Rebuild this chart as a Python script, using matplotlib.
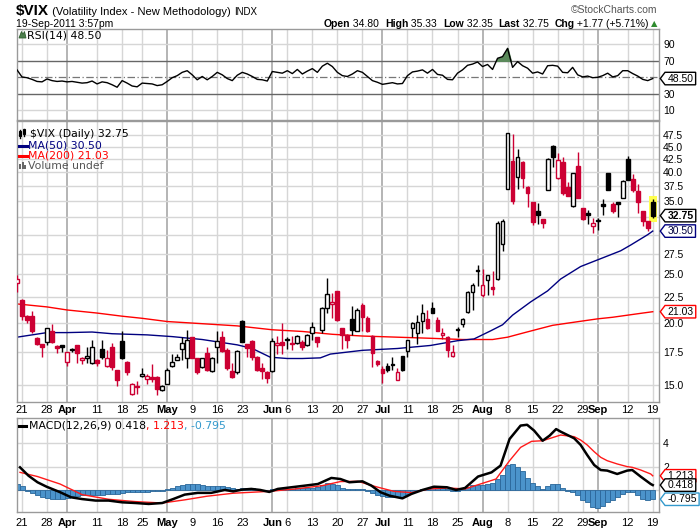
import matplotlib
matplotlib.use('Agg')
import matplotlib.pyplot as plt
import numpy as np
from matplotlib.patches import Rectangle, Polygon
from matplotlib.path import Path
from matplotlib.ticker import FixedLocator, FixedFormatter, NullLocator

plt.rcParams['font.family'] = ['Liberation Sans', 'DejaVu Sans']

# ---------------- data (trading-day index 0 = 18-Mar-2011 ... 127 = 19-Sep-2011) ----------------
opens = [24.0, 22.2, 20.6, 20.6, 18.6, 18.1, 18.3, 19.2, 17.95, 18.0,
         16.7, 17.7, 18.0, 16.8, 16.95, 16.6, 16.8, 17.7, 16.4, 17.9,
         16.07, 18.4, 16.7, 14.4, 14.9, 15.65, 15.4, 15.6, 15.6, 14.65,
         15.1, 16.4, 16.85, 17.7, 17.0, 18.7, 16.95, 16.3, 17.35, 16.0,
         17.9, 18.7, 17.6, 16.0, 15.95, 20.15, 18.1, 18.4, 17.1, 16.25,
         15.95, 16.0, 18.05, 18.3, 18.5, 18.2, 18.2, 18.3, 18.05, 19.1,
         18.7, 19.33, 21.4, 21.75, 23.1, 19.5, 18.9, 20.3, 19.25, 21.7,
         20.4, 18.8, 16.75, 16.15, 16.35, 16.5, 15.35, 17.15, 17.55, 19.5,
         19.1, 20.15, 20.35, 21.4, 20.25, 18.9, 18.75, 17.15, 19.4, 19.85,
         21.0, 23.0, 25.45, 22.7, 24.3, 23.6, 24.4, 28.7, 37.1, 42.1,
         39.2, 42.0, 37.4, 34.8, 33.4, 32.2, 36.9, 45.2, 38.9, 42.0,
         37.4, 34.3, 41.2, 33.9, 33.1, 31.2, 32.05, 34.6, 39.8, 34.6,
         34.8, 35.6, 42.6, 38.8, 36.7, 33.4, 31.95, 34.8]
highs = [24.9, 22.3, 20.7, 21.1, 18.7, 18.15, 19.5, 19.9, 18.0, 18.05,
         17.5, 17.75, 18.0, 17.1, 17.9, 18.45, 16.9, 18.5, 17.63, 18.2,
         16.1, 19.2, 16.75, 15.15, 15.3, 16.2, 15.8, 16.5, 15.65, 15.0,
         16.25, 17.3, 17.3, 18.7, 19.33, 18.7, 17.0, 17.0, 17.9, 17.05,
         19.2, 19.2, 17.8, 16.6, 17.6, 20.2, 18.15, 18.45, 17.15, 16.6,
         16.0, 18.6, 18.8, 20.0, 18.7, 18.8, 18.85, 18.5, 18.95, 20.1,
         18.75, 21.45, 24.6, 22.9, 23.15, 19.55, 18.95, 21.6, 21.4, 21.9,
         20.6, 18.85, 16.85, 16.4, 16.6, 17.05, 16.2, 17.15, 18.5, 20.05,
         20.7, 21.8, 21.2, 22.0, 20.5, 19.55, 18.8, 18.0, 19.6, 20.45,
         23.1, 24.05, 26.1, 25.6, 24.95, 25.35, 31.9, 32.2, 48.0, 47.8,
         44.6, 42.1, 37.5, 34.85, 34.7, 32.25, 42.7, 45.3, 43.7, 42.9,
         38.2, 39.85, 44.0, 34.0, 33.6, 32.35, 32.35, 35.4, 39.85, 34.9,
         34.9, 38.65, 43.2, 39.6, 37.9, 33.45, 32.0, 35.33]
lows = [23.0, 20.24, 20.0, 19.1, 18.0, 17.1, 18.05, 18.2, 17.4, 17.5,
        16.4, 17.45, 16.6, 16.55, 16.6, 16.55, 16.4, 16.9, 16.3, 16.1,
        14.93, 16.9, 15.7, 14.35, 14.4, 15.55, 15.1, 15.2, 14.3, 14.6,
        15.1, 16.3, 16.8, 16.8, 16.2, 16.95, 15.8, 16.25, 16.0, 15.95,
        16.6, 17.5, 16.1, 15.5, 15.8, 18.25, 17.1, 16.8, 16.0, 15.4,
        15.15, 15.95, 17.3, 17.3, 17.7, 17.6, 18.1, 17.6, 17.95, 18.46,
        17.85, 19.1, 20.9, 20.4, 20.15, 17.7, 17.8, 18.9, 19.2, 19.2,
        19.15, 16.3, 16.35, 15.15, 15.95, 16.1, 15.35, 16.0, 17.05, 18.7,
        18.1, 19.1, 19.45, 20.9, 19.2, 18.55, 17.05, 17.1, 18.75, 19.6,
        20.95, 21.2, 23.7, 22.55, 22.7, 22.7, 24.35, 27.8, 37.0, 34.6,
        37.0, 37.2, 34.1, 31.4, 31.55, 30.9, 36.8, 41.0, 38.8, 36.0,
        35.8, 34.05, 35.5, 32.1, 31.55, 30.2, 30.66, 32.8, 36.8, 33.2,
        32.6, 35.55, 38.55, 36.6, 33.2, 31.2, 30.5, 32.35]
closes = [24.44, 20.6, 20.2, 19.2, 18.1, 17.9, 19.5, 18.25, 17.8, 17.9,
          17.45, 17.6, 17.4, 17.0, 17.15, 17.9, 16.6, 17.05, 16.95, 16.3,
          15.35, 16.95, 15.9, 15.1, 14.85, 15.8, 15.65, 15.4, 14.7, 14.9,
          16.07, 16.7, 17.05, 18.2, 18.46, 17.0, 15.95, 16.95, 16.07, 17.0,
          18.4, 17.55, 16.2, 15.55, 17.55, 18.3, 17.8, 17.1, 16.07, 16.0,
          15.5, 18.4, 18.2, 18.0, 18.45, 18.1, 18.8, 17.85, 18.9, 19.6,
          18.3, 21.4, 22.8, 21.95, 20.2, 18.9, 18.5, 19.35, 21.2, 20.5,
          19.2, 17.4, 16.55, 15.85, 16.1, 16.45, 15.95, 16.05, 18.45, 20.0,
          20.1, 20.9, 19.5, 20.95, 19.25, 19.1, 17.6, 17.5, 19.3, 20.3,
          23.0, 23.75, 25.35, 23.75, 24.9, 23.4, 31.7, 32.0, 48.0, 35.1,
          42.9, 39.0, 36.4, 31.85, 32.9, 31.6, 42.6, 42.95, 42.4, 36.3,
          35.9, 39.8, 35.6, 32.3, 32.9, 31.6, 31.95, 34.3, 36.9, 33.4,
          34.6, 38.5, 38.6, 36.9, 34.95, 31.95, 30.98, 32.75]
prior_close = 24.6

ma50_day = [0, 6, 10, 15, 19, 26, 31, 37, 44, 47, 50.6, 54, 57, 60.6, 62.6, 69, 76, 82.6, 88,
            91.3, 94.6, 97, 99, 102.6, 106, 108.6, 112.6, 118, 120.6, 122.6, 126, 127]
ma50_val = [18.7, 19.1, 19.1, 19.15, 19.0, 18.9, 18.75, 18.5, 18.05, 17.75, 17.05, 16.95, 16.95,
            17.0, 17.3, 17.6, 17.75, 18.0, 18.4, 18.55, 19.25, 19.8, 20.7, 22.0, 23.15, 24.45,
            25.9, 27.2, 27.85, 28.6, 30.0, 30.5]
ma200_day = [0, 6, 10, 16, 21, 25, 30, 37, 44, 51, 57, 63, 69, 76, 83, 89, 95, 98, 101, 104,
             107, 110, 113, 116, 119, 122, 125, 127]
ma200_val = [21.8, 21.5, 21.2, 20.9, 20.6, 20.4, 20.1, 19.9, 19.7, 19.35, 19.2, 18.95, 18.8,
             18.7, 18.6, 18.5, 18.5, 18.7, 19.05, 19.4, 19.75, 19.95, 20.15, 20.35, 20.5, 20.7,
             20.9, 21.03]

rsi = [59, 50.4, 49.5, 47.5, 45, 44.5, 48, 46, 45, 45.5,
       44.5, 45, 44, 43, 43.5, 45.5, 42, 44.5, 43.5, 41,
       38, 46, 43, 39.5, 38.5, 43, 42.5, 42, 40, 41,
       45, 49.5, 52, 56, 58, 53, 47, 51, 47, 51,
       56, 53, 48.5, 46, 52.5, 56, 54, 51, 47.5, 47,
       45.5, 57, 56, 55, 58, 54.5, 59.5, 54, 57.5, 60.5,
       56, 63.5, 67, 63, 56, 52, 51, 54, 58, 56,
       51, 46, 44, 41.5, 42.5, 43.5, 42, 42.5, 52, 56.5,
       57.5, 59, 55, 59.5, 53.5, 52.5, 47.5, 47, 55, 59,
       64.5, 66, 68.5, 63, 65.5, 59.5, 73, 75, 85, 62,
       69, 64, 61, 55, 56.5, 54, 64, 64.5, 63.5, 56,
       55.5, 62, 53, 50.5, 51.5, 49.5, 50, 52, 55, 50.5,
       52, 58, 58, 54.5, 51.5, 47.5, 46, 48.5]

macd_day = [0.6, 2.3, 4.1, 5.9, 8.6, 10.8, 13.0, 15.7, 18.3, 21.0, 23.7, 26.3, 29.0, 31.2, 33.5,
            36.1, 38.8, 41.5, 43.2, 45.0, 46.8, 48.6, 50.4, 52.1, 54.8, 57.5, 60.1, 62.8, 64.6,
            66.4, 69.0, 70.8, 72.6, 74.4, 77.0, 78.8, 81.0, 83.3, 85.9, 87.7, 89.5, 92.1, 94.8,
            96.6, 98.4, 100.6, 101.9, 103.3, 105.0, 106.4, 107.7, 108.6, 111.3, 112.6, 113.9,
            115.3, 116.6, 117.9, 119.9, 121.9, 122.9, 124.6, 126.6, 127]
macd_val = [1.94, 1.22, 0.66, 0.28, -0.19, -0.63, -0.78, -0.91, -0.91, -1.06, -1.12, -1.2, -1.12,
            -0.78, -0.4, -0.25, -0.25, 0.0, -0.12, 0.03, 0.09, 0.0, -0.17, 0.09, 0.23, 0.37, 0.51,
            1.03, 0.94, 0.66, 0.74, 0.37, -0.19, -0.49, -0.72, -0.34, 0.0, 0.28, 0.23, 0.0, 0.17,
            1.15, 1.51, 2.09, 4.37, 5.52, 5.59, 5.09, 4.22, 4.66, 5.22, 5.0, 4.43, 3.86, 3.0,
            2.14, 1.71, 1.66, 1.37, 1.66, 1.71, 1.14, 0.51, 0.418]
signal_day = [0.6, 4.1, 8.6, 13.0, 18.3, 23.7, 29.0, 33.5, 37.9, 43.2, 50.4, 55.7, 61.0, 64.6,
              68.1, 71.7, 75.3, 78.8, 82.4, 85.9, 89.5, 93.0, 95.7, 98.4, 100.6, 102.8, 105.0,
              108.6, 111.3, 112.6, 113.9, 115.3, 116.6, 117.9, 119.9, 121.9, 122.9, 124.6,
              126.6, 127]
signal_val = [1.51, 1.15, 0.51, -0.4, -0.8, -1.0, -1.12, -0.85, -0.54, -0.28, -0.12, 0.09, 0.37,
              0.72, 0.74, 0.28, -0.12, -0.23, 0.09, 0.17, 0.09, 0.57, 0.94, 2.51, 3.65, 4.17,
              4.22, 4.71, 4.57, 4.28, 3.86, 3.28, 2.8, 2.51, 2.23, 2.0, 1.94, 1.71, 1.37, 1.213]
hist = [0.55, 0.3, -0.05, -0.25, -0.45, -0.6, -0.7, -0.75, -0.75, -0.75,
        -0.7, -0.55, -0.5, -0.45, -0.45, -0.4, -0.4, -0.4, -0.35, -0.35,
        -0.35, -0.25, -0.2, -0.2, -0.2, -0.15, -0.15, -0.1, -0.1, -0.05,
        0.05, 0.15, 0.3, 0.42, 0.52, 0.52, 0.47, 0.42, 0.34, 0.34,
        0.3, 0.34, 0.24, 0.15, 0.1, 0.15, 0.2, 0.15, 0.05, -0.05,
        -0.1, 0.05, 0.05, 0.05, 0.1, 0.1, 0.14, 0.14, 0.14, 0.2,
        0.24, 0.4, 0.58, 0.53, 0.4, 0.15, 0.05, 0.05, 0.1, 0.05,
        -0.1, -0.3, -0.44, -0.53, -0.58, -0.58, -0.63, -0.58, -0.34, -0.15,
        0.0, 0.1, 0.19, 0.24, 0.19, 0.15, 0.05, -0.05, -0.05, 0.1,
        0.29, 0.39, 0.44, 0.44, 0.5, 0.6, 0.9, 1.3, 2.1, 2.2,
        2.0, 1.6, 1.0, 0.6, 0.3, 0.1, 0.35, 0.55, 0.5, 0.15,
        -0.1, -0.2, -0.45, -0.9, -1.05, -1.43, -1.54, -1.34, -1.05, -0.86,
        -0.6, -0.34, -0.2, -0.2, -0.42, -0.75, -0.86, -0.795]

tick_day = [1, 6, 10, 16, 21, 25, 30, 35, 40, 45, 51, 54, 59, 64, 69, 73, 78, 83, 88, 93,
            98, 103, 108, 113, 116, 122, 127]
tick_text = ['21', '28', 'Apr', '11', '18', '25', 'May', '9', '16', '23', 'Jun', '6', '13',
             '20', '27', 'Jul', '11', '18', '25', 'Aug', '8', '15', '22', '29', 'Sep', '12', '19']
month_names = ['Apr', 'May', 'Jun', 'Jul', 'Aug', 'Sep']

main_ticks = [15, 17.5, 20, 22.5, 25, 27.5, 30, 32.5, 35, 37.5, 40, 42.5, 45, 47.5]
main_tick_text = ['15.0', '17.5', '20.0', '22.5', '25.0', '27.5', '', '', '35.0', '37.5',
                  '40.0', '42.5', '45.0', '47.5']

# ---------------- styling ----------------
W, H = 700, 530
RED = '#cc0033'
BLACK = '#000000'
GRID = '#d6d6d6'
MGRID = '#b4b4b4'
SPINE = '#9a9a9a'

fig = plt.figure(figsize=(W / 100, H / 100), dpi=100)
fig.patch.set_facecolor('white')


def axes_px(left, top, right, bottom):
    return fig.add_axes([left / W, 1 - bottom / H, (right - left) / W, (bottom - top) / H])


ax_rsi = axes_px(16.5, 28.5, 659, 119.5)
ax_main = axes_px(16.5, 121, 659, 402)
ax_macd = axes_px(16.5, 418, 659, 512)

n = len(closes)
XL = (-0.1, 128.25)


def base_style(ax, xlabels):
    ax.set_xlim(*XL)
    for s in ax.spines.values():
        s.set_color(SPINE)
        s.set_linewidth(1)
    for d, t in zip(tick_day, tick_text):
        if t in month_names:
            ax.axvline(d, color=MGRID, lw=1.4, zorder=0.5)
        else:
            ax.axvline(d, color=GRID, lw=1, zorder=0.5)
    ax.set_xticks(tick_day)
    ax.tick_params(axis='x', length=0, pad=2.5, labelsize=8)
    if xlabels:
        ax.set_xticklabels(tick_text)
        for lab in ax.get_xticklabels():
            if lab.get_text() in month_names:
                lab.set_fontweight('bold')
    else:
        ax.set_xticklabels([])
    ax.yaxis.tick_right()
    ax.tick_params(axis='y', length=0, pad=3, labelsize=7.5)


def tagstyle(x0, y0, width, height, mutation_size):
    padx = 0.22 * mutation_size
    pady = 0.12 * mutation_size
    x0 -= padx
    y0 -= pady
    width += 2 * padx
    height += 2 * pady
    tip = height * 0.38
    verts = [(x0, y0), (x0 + width, y0), (x0 + width, y0 + height), (x0, y0 + height),
             (x0 - tip, y0 + height / 2), (x0, y0)]
    codes = [Path.MOVETO] + [Path.LINETO] * 4 + [Path.CLOSEPOLY]
    return Path(verts, codes)


def tag(ax, val, text, ec, tc='black', bold=False):
    ax.annotate(text, xy=(1.0, val), xycoords=('axes fraction', 'data'),
                xytext=(6.0, 0), textcoords='offset points', ha='left', va='center',
                fontsize=7.5, color=tc, fontweight='bold' if bold else 'normal',
                bbox=dict(boxstyle=tagstyle, fc='white', ec=ec, lw=1),
                annotation_clip=False, zorder=10)


renderer = fig.canvas.get_renderer()


def seq_text(x_px, y_px, parts, ha='left', va='baseline'):
    texts, widths = [], []
    for s, kw in parts:
        t = fig.text(0, 0, s, va=va, **kw)
        bb = t.get_window_extent(renderer=renderer)
        texts.append(t)
        widths.append(bb.width)
    x = x_px if ha == 'left' else x_px - sum(widths)
    for t, w in zip(texts, widths):
        t.set_position((x / W, 1 - y_px / H))
        x += w
    return x


# ---------------- RSI panel ----------------
base_style(ax_rsi, False)
ax_rsi.set_ylim(-1, 109)
ax_rsi.set_yticks([10, 30, 70, 90])
ax_rsi.set_yticklabels(['10', '30', '70', '90'])
for lv in (10, 90):
    ax_rsi.axhline(lv, color=GRID, lw=1, zorder=0.6)
ax_rsi.axhline(70, color='#666666', lw=1, zorder=1)
ax_rsi.axhline(30, color='#666666', lw=1, zorder=1)
ax_rsi.axhline(50, color='#777777', lw=0.9, ls=(0, (6, 2, 1, 2)), zorder=1)
days = np.arange(n)
rsi_arr = np.array(rsi)
ax_rsi.fill_between(days, rsi_arr, 70, where=rsi_arr > 70, interpolate=True,
                    color='#5b8a5b', zorder=2)
ax_rsi.plot(days, rsi_arr, color='black', lw=1, zorder=3)
tag(ax_rsi, 48.5, '48.50', 'black')

# ---------------- main price panel ----------------
base_style(ax_main, True)
ax_main.set_yscale('log')
ax_main.set_ylim(13.87, 50.66)
ax_main.yaxis.set_major_locator(FixedLocator(main_ticks))
ax_main.yaxis.set_major_formatter(FixedFormatter(main_tick_text))
ax_main.yaxis.set_minor_locator(NullLocator())
for lv in main_ticks:
    ax_main.axhline(lv, color=GRID, lw=1, zorder=0.6)

ax_main.plot(ma200_day, ma200_val, color='#ff0000', lw=1, zorder=2)
ax_main.plot(ma50_day, ma50_val, color='#000080', lw=1, zorder=2)

bw = 0.76
last = n - 1
ax_main.add_patch(Rectangle((last - 0.78, lows[last] * 0.985), 1.56,
                            highs[last] * 1.015 - lows[last] * 0.985,
                            facecolor='#ffff4d', edgecolor='none', zorder=2.5))
for i in range(n):
    o, h, l, c = opens[i], highs[i], lows[i], closes[i]
    pc = closes[i - 1] if i > 0 else prior_close
    col = BLACK if c >= pc else RED
    ax_main.plot([i, i], [l, h], color=col, lw=1, zorder=3, solid_capstyle='butt')
    lo, hi = min(o, c), max(o, c)
    if hi / lo < 1.003:
        hi = lo * 1.003
    filled = c < o
    ax_main.add_patch(Rectangle((i - bw / 2, lo), bw, hi - lo,
                                facecolor=col if filled else 'white',
                                edgecolor=col, lw=1, zorder=4))

tag(ax_main, 32.75, '32.75', 'black', bold=True)
tag(ax_main, 30.5, '30.50', '#000080', tc='#000040')
tag(ax_main, 21.03, '21.03', '#ff0000', tc='#000000')

# ---------------- MACD panel ----------------
base_style(ax_macd, True)
ax_macd.tick_params(axis='x', pad=4)
ax_macd.set_ylim(-1.89, 6.17)
ax_macd.set_yticks([2, 4])
ax_macd.set_yticklabels(['2', '4'])
for lv in (0, 2, 4):
    ax_macd.axhline(lv, color=GRID, lw=1, zorder=0.6)
ax_macd.bar(days, hist, width=1.0, color='#4b93cb', edgecolor='#2a6699', lw=0.6, zorder=2)
ax_macd.plot(signal_day, signal_val, color='#ff1a1a', lw=1, zorder=3)
ax_macd.plot(macd_day, macd_val, color='black', lw=1.8, zorder=4)
tag(ax_macd, 1.213, '1.213', '#ff0000')
tag(ax_macd, 0.418, '0.418', 'black')
tag(ax_macd, -0.795, '-0.795', '#3399cc')

# ---------------- header ----------------
seq_text(16, 15, [('$VIX', dict(fontsize=11, fontweight='bold')),
                  (' (Volatility Index - New Methodology) ', dict(fontsize=8)),
                  ('INDX', dict(fontsize=7))])
fig.text(16 / W, 1 - 27 / H, '19-Sep-2011 3:57pm', fontsize=7.5, va='baseline')
fig.text(657 / W, 1 - 13 / H, '\u00a9StockCharts.com', fontsize=7.5, color='#555555',
         ha='right', va='baseline')
B = dict(fontsize=7.5, fontweight='bold')
R = dict(fontsize=7.5)
seq_text(649, 27, [('Open', B), (' 34.80  ', R), ('High', B), (' 35.33  ', R),
                   ('Low', B), (' 32.35  ', R), ('Last', B), (' 32.75  ', R),
                   ('Chg', B), (' +1.77 (+5.71%)', R)], ha='right')
fig.text(651 / W, 1 - 26 / H, '\u25b2', fontsize=6, color='#2e8b2e', va='baseline',
         family='DejaVu Sans')

# ---------------- in-panel legends ----------------
LEG = dict(fontsize=7.8, family='DejaVu Sans')
# RSI icon
fig.patches.append(Polygon([[19 / W, 1 - 38 / H], [21.5 / W, 1 - 31.5 / H], [23 / W, 1 - 34.5 / H],
                            [24.5 / W, 1 - 31.5 / H], [26 / W, 1 - 38 / H]], closed=True,
                           transform=fig.transFigure, facecolor='#4c7f4c', edgecolor='#2f5f2f',
                           lw=0.6))
fig.text(27 / W, 1 - 38 / H, 'RSI(14) 48.50', color='black', va='baseline', **LEG)

# $VIX icon (two small candles)
for k, (t0, t1) in enumerate([(129.5, 137.5), (128.5, 135.5)]):
    xx = 20 + k * 4
    fig.lines.append(plt.Line2D([xx / W, xx / W], [1 - t1 / H, 1 - t0 / H],
                                transform=fig.transFigure, color='black', lw=1))
    fig.patches.append(Rectangle(((xx - 1.3) / W, 1 - (t1 - 1.5) / H), 2.6 / W, 5 / H,
                                 transform=fig.transFigure,
                                 facecolor='black' if k == 0 else 'white',
                                 edgecolor='black', lw=0.8))
fig.text(30 / W, 1 - 137 / H, '$VIX (Daily) 32.75', color='black', va='baseline', **LEG)
fig.lines.append(plt.Line2D([19 / W, 27 / W], [1 - 145.5 / H, 1 - 145.5 / H],
                            transform=fig.transFigure, color='#000080', lw=2.2))
fig.text(28 / W, 1 - 148.5 / H, 'MA(50) 30.50', color='#000080', va='baseline', **LEG)
fig.lines.append(plt.Line2D([19 / W, 27 / W], [1 - 156 / H, 1 - 156 / H],
                            transform=fig.transFigure, color='#ff0000', lw=2.2))
fig.text(28 / W, 1 - 159 / H, 'MA(200) 21.03', color='#ff0000', va='baseline', **LEG)
for k, hh in enumerate([5, 7, 4]):
    fig.patches.append(Rectangle(((19 + k * 2.6) / W, 1 - 169 / H), 2.0 / W, hh / H,
                                 transform=fig.transFigure, facecolor='#666666',
                                 edgecolor='none'))
fig.text(28 / W, 1 - 169 / H, 'Volume undef', color='#555555', va='baseline', **LEG)

# MACD legend
fig.lines.append(plt.Line2D([19 / W, 26 / W], [1 - 425.5 / H, 1 - 425.5 / H],
                            transform=fig.transFigure, color='black', lw=2.2))
seq_text(29, 428.5, [('MACD(12,26,9) 0.418', dict(color='black', **LEG)),
                     (', 1.213', dict(color='#ff0000', **LEG)),
                     (', -0.795', dict(color='#3399cc', **LEG))])

fig.savefig('out.png', dpi=100)
